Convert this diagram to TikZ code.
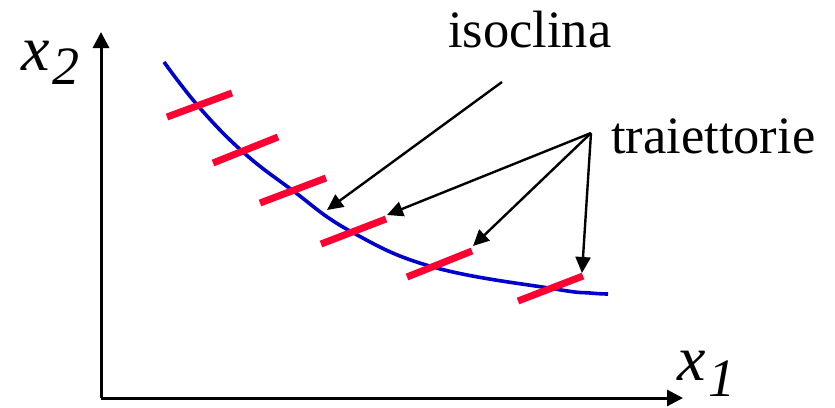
\documentclass[tikz,border=0pt]{standalone}
\usepackage{fontspec}
\setmainfont{Liberation Serif}
\usetikzlibrary{arrows.meta}
\definecolor{isored}{RGB}{255,0,51}
\definecolor{isoblue}{RGB}{0,0,204}
\tikzset{
  axis/.style={line width=3pt,-{Triangle[length=16pt,width=16pt]}},
  pointer/.style={line width=2.4pt,-{Triangle[length=16pt,width=15pt]}},
  curve/.style={isoblue,line width=3.6pt},
  tick/.style={isored,line width=7pt},
  lbl/.style={inner sep=0pt,anchor=base west,font=\fontsize{52.5}{60}\selectfont},
  axbig/.style={inner sep=0pt,anchor=base west,font=\fontsize{64}{76}\selectfont\itshape},
  axsub/.style={inner sep=0pt,anchor=base west,font=\fontsize{54}{60}\selectfont\itshape}
}
\begin{document}
\begin{tikzpicture}[x=1pt,y=-1pt]
\useasboundingbox (0,0) rectangle (835,407);
% axes
\coordinate (O) at (101,398);
\coordinate (Y) at (101,32);
\coordinate (X) at (683,398);
\draw[axis] (O) -- (Y);
\draw[axis] (O) -- (X);
\node[axbig] (x2x) at (21,70) {x};
\node[axsub] (x2s) at (52,84) {2};
\node[axbig] (x1x) at (677,380) {x};
\node[axsub] (x1s) at (708,396) {1};
% isocline curve
\draw[curve] plot[smooth,tension=0.7] coordinates {(164,62) (199,107) (243,152) (292,190) (350,231) (433,267) (555,289) (590,293) (608,294)};
% tangent segments
\draw[tick] (167,117) -- (232,93);
\draw[tick] (213,163) -- (278,137);
\draw[tick] (260,203) -- (326,178);
\draw[tick] (321,244) -- (386,219);
\draw[tick] (407,277) -- (472,251);
\draw[tick] (518,301) -- (583,276);
% labels
\node[lbl] (iso) at (448,47) {isoclina};
\node[lbl] (tra) at (611,153) {traiettorie};
% pointers
\coordinate (isoS) at (502,82);
\coordinate (isoT) at (327,210);
\coordinate (traS) at (591,133);
\coordinate (t1) at (387,215);
\coordinate (t2) at (473,246);
\coordinate (t3) at (582,273);
\draw[pointer] (isoS) -- (isoT);
\draw[pointer] (traS) -- (t1);
\draw[pointer] (traS) -- (t2);
\draw[pointer] (traS) -- (t3);
\end{tikzpicture}
\end{document}
